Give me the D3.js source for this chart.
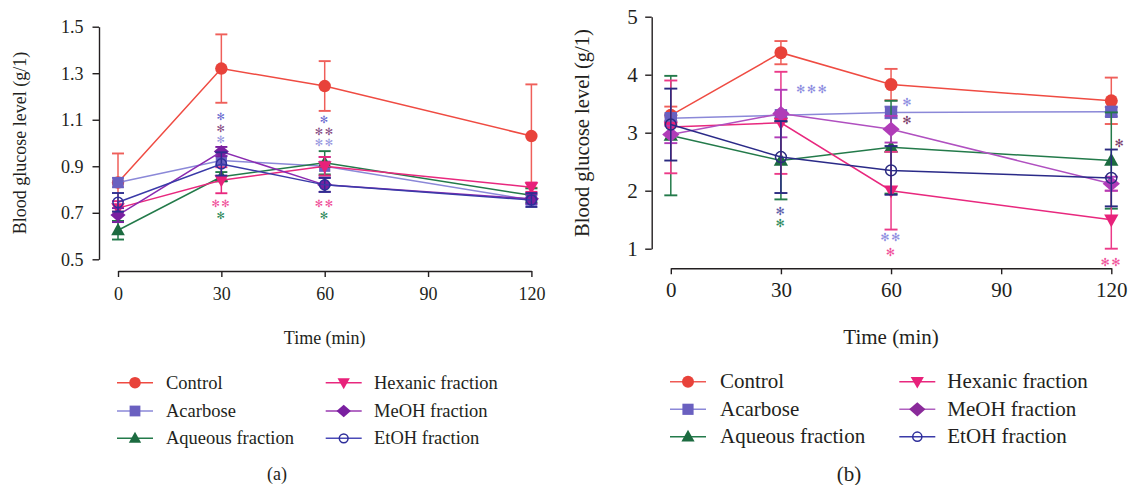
<!DOCTYPE html>
<html>
<head>
<meta charset="utf-8">
<script src="https://cdn.jsdelivr.net/npm/d3@7"></script>
<style>
  html, body { margin: 0; padding: 0; background: #ffffff; }
  svg { display: block; }
  text { font-family: "Liberation Serif", "Times New Roman", serif; fill: #231f20; }
  text.star { font-family: "DejaVu Sans", sans-serif; }
</style>
</head>
<body>
<svg id="chart" width="1128" height="485"></svg>
<script>
// ---- data ----
const times = [0, 30, 60, 120];
const timeTicks = [0, 30, 60, 90, 120];
const seriesNames = ["Control", "Acarbose", "Aqueous fraction", "Hexanic fraction", "MeOH fraction", "EtOH fraction"];
const yTicksA = [0.5, 0.7, 0.9, 1.1, 1.3, 1.5];
const yTicksB = [1, 2, 3, 4, 5];

// panel (a): mean blood glucose (g/l) and error
const controlA   = [0.83, 1.32, 1.245, 1.03];
const controlErrA = [0.125, 0.147, 0.107, 0.222];
const acarboseA  = [0.83, 0.925, 0.90, 0.755];
const acarboseErrA = [0.02, 0.02, 0.04, 0.02];
const aqueousA   = [0.625, 0.855, 0.915, 0.775];
const aqueousErrA = [0.04, 0.02, 0.05, 0.03];
const hexanicA   = [0.72, 0.84, 0.90, 0.81];
const hexanicErrA = [0.03, 0.056, 0.04, 0.02];
const meohA      = [0.69, 0.963, 0.82, 0.76];
const meohErrA   = [0.03, 0.02, 0.03, 0.02];
const etohA      = [0.745, 0.91, 0.82, 0.755];
const etohErrA   = [0.04, 0.05, 0.03, 0.03];

// panel (b)
const controlB   = [3.30, 4.38, 3.83, 3.55];
const controlErrB = [0.15, 0.20, 0.27, 0.40];
const acarboseB  = [3.25, 3.30, 3.35, 3.36];
const acarboseErrB = [0.05, 0.05, 0.10, 0.08];
const aqueousB   = [2.95, 2.52, 2.75, 2.52];
const aqueousErrB = [1.03, 0.67, 0.80, 0.83];
const hexanicB   = [3.10, 3.17, 2.00, 1.50];
const hexanicErrB = [0.80, 0.88, 0.67, 0.50];
const meohB      = [2.97, 3.33, 3.06, 2.12];
const meohErrB   = [0.15, 0.41, 0.23, 0.12];
const etohB      = [3.14, 2.58, 2.35, 2.22];
const etohErrB   = [0.62, 0.62, 0.42, 0.49];

// significance marks: time, glucose level, text, series index (colour)
const starTimeA   = [30, 30, 30, 30, 30, 60, 60, 60, 60, 60];
const starValueA  = [1.113, 1.063, 1.016, 0.741, 0.69, 1.103, 1.052, 1.003, 0.741, 0.69];
const starTextA   = ["✻", "✻", "✻", "✻✻", "✻", "✻", "✻✻", "✻✻", "✻✻", "✻"];
const starSeriesA = [5, 4, 1, 3, 2, 5, 4, 1, 3, 2];

const starTimeB   = [38.5, 30, 30, 64.5, 64.5, 60, 60, 122.3, 120];
const starValueB  = [3.75, 1.655, 1.44, 3.53, 3.21, 1.197, 0.95, 2.83, 0.776];
const starTextB   = ["✻✻✻", "✻", "✻", "✻", "✻", "✻✻", "✻", "✻", "✻✻"];
const starSeriesB = [1, 5, 2, 1, 4, 1, 3, 4, 3];

// ---- styles ----
const markerTypes = ["circle", "square", "up", "down", "diamond", "open"];
const styleA = {
  marker: ["#e8423a", "#6a60c0", "#1c6b40", "#e8217a", "#7a1fa0", "#2e2e9a"],
  line:   ["#ef4b42", "#8b88d8", "#237a4a", "#e8287e", "#8a2ab0", "#3a3aa8"],
  err:    ["#ef5f5a", "#7a74cc", "#237a4a", "#e8287e", "#7a1fa0", "#2e2e90"],
  star:   ["#ef4b42", "#9a9ae0", "#2f8a5c", "#f0509a", "#8a4f86", "#6d6dd0"]
};
const styleB = {
  marker: ["#e8423a", "#6a60c0", "#1c6b40", "#e8217a", "#b03cb8", "#2a2a80"],
  line:   ["#ef4b42", "#8b88d8", "#237a4a", "#e8287e", "#b050c0", "#2a2a88"],
  err:    ["#ef5f5a", "#7a74cc", "#237a4a", "#ec3a88", "#b03cb8", "#2a2a80"],
  star:   ["#ef4b42", "#8c8ce0", "#2f8a5c", "#f0509a", "#7a3a6a", "#5a5aa8"]
};

function markerPath(type, s) {
  const p = d3.path();
  if (type === "circle" || type === "open") {
    p.arc(0, 0, s, 0, 2 * Math.PI);
  } else if (type === "square") {
    p.rect(-s, -s, 2 * s, 2 * s);
  } else if (type === "up") {
    p.moveTo(0, -s * 1.15); p.lineTo(s * 1.1, s * 0.8); p.lineTo(-s * 1.1, s * 0.8); p.closePath();
  } else if (type === "down") {
    p.moveTo(0, s * 1.15); p.lineTo(s * 1.1, -s * 0.8); p.lineTo(-s * 1.1, -s * 0.8); p.closePath();
  } else if (type === "diamond") {
    p.moveTo(0, -s * 1.05); p.lineTo(s * 1.2, 0); p.lineTo(0, s * 1.05); p.lineTo(-s * 1.2, 0); p.closePath();
  }
  return p.toString();
}

function drawMarker(g, type, cx, cy, size, color) {
  const m = g.append("path")
    .attr("d", markerPath(type, type === "open" ? size * 0.88 : size))
    .attr("transform", `translate(${cx},${cy})`);
  if (type === "open") {
    m.attr("fill", "none").attr("stroke", color).attr("stroke-width", 1.5);
  } else {
    m.attr("fill", color);
  }
}

const svg = d3.select("#chart");

function drawPanel(cfg) {
  const g = svg.append("g");
  const x = d3.scaleLinear().domain([0, 120]).range([cfg.x0, cfg.x1]);
  const y = d3.scaleLinear().domain(cfg.yDomain).range([cfg.yBot, cfg.yTop]);

  // axes
  const xAxis = g.append("g")
    .attr("transform", `translate(0,${cfg.xAxisY})`)
    .call(d3.axisBottom(x).tickValues(timeTicks).tickSize(6).tickSizeOuter(0));
  const yAxis = g.append("g")
    .attr("transform", `translate(${cfg.yAxisX},0)`)
    .call(d3.axisLeft(y).tickValues(cfg.yTicks).tickFormat(cfg.yFormat).tickSize(6.5).tickSizeOuter(0));
  [xAxis, yAxis].forEach(a => {
    a.attr("font-size", cfg.fs);
    a.select(".domain").attr("stroke", "#231f20").attr("stroke-width", 1.4);
    a.selectAll(".tick line").attr("stroke", "#231f20").attr("stroke-width", 1.4);
  });
  xAxis.selectAll(".tick text").attr("y", cfg.xLabelOffset).attr("dy", null);
  yAxis.selectAll(".tick text").attr("x", -cfg.yLabelOffset).attr("dy", "0.33em");

  // axis titles
  g.append("text")
    .attr("transform", `translate(${cfg.yTitleX},${cfg.yTitleY}) rotate(-90)`)
    .attr("text-anchor", "middle").attr("dy", "0.3em")
    .attr("font-size", cfg.titleFs)
    .text("Blood glucose level (g/1)");
  g.append("text")
    .attr("x", (cfg.x0 + cfg.x1) / 2).attr("y", cfg.xTitleY)
    .attr("text-anchor", "middle").attr("dy", "0.3em")
    .attr("font-size", cfg.fs)
    .text("Time (min)");
  g.append("text")
    .attr("x", cfg.panelLabelX).attr("y", cfg.panelLabelY)
    .attr("text-anchor", "middle").attr("dy", "0.3em")
    .attr("font-size", cfg.fs)
    .text(cfg.panelLabel);

  // series: error bars, line, markers
  const lineGen = d3.line().x(d => x(d.t)).y(d => y(d.v));
  cfg.series.forEach((s, i) => {
    const pts = times.map((t, k) => ({ t, v: s.mean[k], e: s.err[k] }));
    const sg = g.append("g");
    pts.forEach(d => {
      const px = x(d.t), lo = y(d.v - d.e), hi = y(d.v + d.e);
      sg.append("line").attr("x1", px).attr("x2", px).attr("y1", lo).attr("y2", hi)
        .attr("stroke", cfg.style.err[i]).attr("stroke-width", 1.5);
      [lo, hi].forEach(yy => sg.append("line")
        .attr("x1", px - cfg.cap).attr("x2", px + cfg.cap).attr("y1", yy).attr("y2", yy)
        .attr("stroke", cfg.style.err[i]).attr("stroke-width", 1.9));
    });
    sg.append("path").datum(pts).attr("d", lineGen)
      .attr("fill", "none").attr("stroke", cfg.style.line[i]).attr("stroke-width", 1.5);
    pts.forEach(d => drawMarker(sg, markerTypes[i], x(d.t), y(d.v), cfg.msize[i], cfg.style.marker[i]));
  });

  // significance marks
  cfg.stars.time.forEach((t, k) => {
    g.append("text")
      .attr("class", "star")
      .attr("x", x(t)).attr("y", y(cfg.stars.value[k]))
      .attr("dy", "0.36em")
      .attr("text-anchor", "middle")
      .attr("font-size", cfg.starFs)
      .attr("letter-spacing", cfg.starGap)
      .style("fill", cfg.style.star[cfg.stars.series[k]])
      .text(cfg.stars.text[k]);
  });

  // legend
  seriesNames.forEach((name, i) => {
    const col = i < 3 ? 0 : 1;
    const row = i % 3;
    const L = cfg.legend;
    const cy = L.rows[row];
    const lx0 = L.lineX[col], lx1 = lx0 + L.lineLen;
    g.append("line").attr("x1", lx0).attr("x2", lx1).attr("y1", cy).attr("y2", cy)
      .attr("stroke", L.lineColor[i]).attr("stroke-width", 1.5);
    drawMarker(g, markerTypes[i], (lx0 + lx1) / 2, cy, L.msize[i], L.markerColor[i]);
    g.append("text").attr("x", L.textX[col]).attr("y", cy).attr("dy", "0.32em")
      .attr("font-size", cfg.legendFs).text(name);
  });
}

drawPanel({
  x0: 118, x1: 531.4, yTop: 26.7, yBot: 259.3, yDomain: [0.5, 1.5],
  yTicks: yTicksA, yFormat: d3.format(".1f"),
  xAxisY: 271, yAxisX: 99, xLabelOffset: 28.5, yLabelOffset: 15.5,
  fs: 18, titleFs: 18, starFs: 10, starGap: 1.5, legendFs: 18.5,
  yTitleX: 20.5, yTitleY: 143, xTitleY: 339, panelLabel: "(a)", panelLabelX: 277, panelLabelY: 475,
  cap: 6, msize: [6.2, 5.6, 6.2, 6.2, 6.3, 5.8],
  style: styleA,
  series: [
    { mean: controlA, err: controlErrA },
    { mean: acarboseA, err: acarboseErrA },
    { mean: aqueousA, err: aqueousErrA },
    { mean: hexanicA, err: hexanicErrA },
    { mean: meohA, err: meohErrA },
    { mean: etohA, err: etohErrA }
  ],
  stars: { time: starTimeA, value: starValueA, text: starTextA, series: starSeriesA },
  legend: {
    rows: [382.7, 411, 438.3], lineX: [117, 325.7], lineLen: 36, textX: [166, 374],
    lineColor: ["#ef4b42", "#8b88d8", "#237a4a", "#e8287e", "#9a3ab0", "#4a4ab8"],
    markerColor: ["#e8423a", "#6a60c0", "#1c6b40", "#e8217a", "#7a1fa0", "#2e2e9a"],
    msize: [5.8, 5.4, 5.6, 5.6, 6, 5]
  }
});

drawPanel({
  x0: 670.8, x1: 1111.3, yTop: 16.7, yBot: 248.7, yDomain: [1, 5],
  yTicks: yTicksB, yFormat: d3.format("d"),
  xAxisY: 268.3, yAxisX: 651.7, xLabelOffset: 29, yLabelOffset: 14,
  fs: 21, titleFs: 20.5, starFs: 11, starGap: 1.5, legendFs: 21,
  yTitleX: 582.5, yTitleY: 133, xTitleY: 338, panelLabel: "(b)", panelLabelX: 849, panelLabelY: 475,
  cap: 6.5, msize: [6.5, 6.2, 6.5, 6.5, 7.2, 6.2],
  style: styleB,
  series: [
    { mean: controlB, err: controlErrB },
    { mean: acarboseB, err: acarboseErrB },
    { mean: aqueousB, err: aqueousErrB },
    { mean: hexanicB, err: hexanicErrB },
    { mean: meohB, err: meohErrB },
    { mean: etohB, err: etohErrB }
  ],
  stars: { time: starTimeB, value: starValueB, text: starTextB, series: starSeriesB },
  legend: {
    rows: [381.7, 409.3, 436.7], lineX: [670, 899.3], lineLen: 36, textX: [720, 947.3],
    lineColor: ["#ef5a55", "#8b88d8", "#237a4a", "#e8287e", "#b060c0", "#3a3aa8"],
    markerColor: ["#e8423a", "#6a60c0", "#1c6b40", "#e8217a", "#8a2a9a", "#2e2e9a"],
    msize: [6, 5.6, 6, 6, 6.8, 5.2]
  }
});
</script>
</body>
</html>
